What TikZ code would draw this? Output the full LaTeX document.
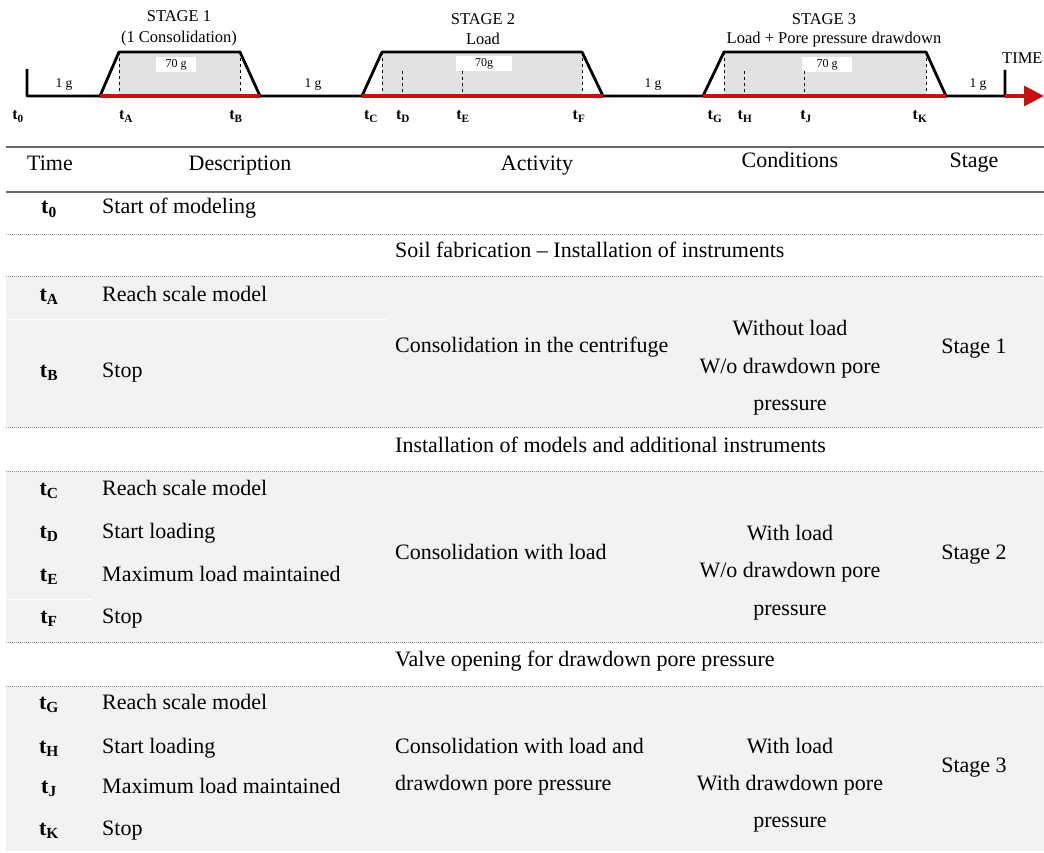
\documentclass[tikz,border=0pt]{standalone}
\usepackage{fontspec}
\setmainfont{Liberation Serif}
\usetikzlibrary{arrows.meta}
\definecolor{figR}{RGB}{200,16,16}
\definecolor{figG}{RGB}{226,226,226}
\definecolor{figS}{RGB}{242,242,242}
\definecolor{figL}{RGB}{105,105,105}
\newcommand{\tsub}[1]{\textbf{t}\textsubscript{\textbf{#1}}}

\begin{document}
\begin{tikzpicture}[x=1pt,y=-1pt,
  blk/.style={line width=2.8pt,black,line join=round},
  redl/.style={line width=3.2pt,figR},
  dsh/.style={dashed,black,line width=0.8pt},
  gbox/.style={fill=white,inner sep=0pt,minimum height=15pt,font=\fontsize{12}{14}\selectfont},
  stg/.style={inner sep=0pt,anchor=base,font=\fontsize{16.5}{18}\selectfont},
  oneg/.style={inner sep=0pt,anchor=base,font=\fontsize{13.5}{15}\selectfont},
  tmark/.style={inner sep=0pt,anchor=base,font=\fontsize{16}{18}\selectfont},
  cell/.style={inner sep=0pt,anchor=base west,font=\fontsize{22}{26}\selectfont},
  ccell/.style={inner sep=0pt,anchor=base,font=\fontsize{22}{26}\selectfont},
  rule/.style={figL,line width=1.5pt},
  dots/.style={gray!85,line width=0.8pt,dash pattern=on 1pt off 1pt}]
\useasboundingbox (0,0) rectangle (1044,853);
% plateaus at 70 g
\fill[figG] (119,52) rectangle (240,96);
\fill[figG] (382,52) rectangle (582,96);
\fill[figG] (724,52) rectangle (926,96);
\node[gbox,minimum width=40pt] (g1) at (176,64.5) {70 g};
\node[gbox,minimum width=56pt] (g2) at (484,64) {70g};
\node[gbox,minimum width=50pt] (g3) at (827,64.5) {70 g};
% time marks
\draw[dsh] (119,52) -- (119,96);
\draw[dsh] (240,52) -- (240,96);
\draw[dsh] (382,52) -- (382,96);
\draw[dsh] (402,71) -- (402,96);
\draw[dsh] (462,71) -- (462,96);
\draw[dsh] (582,52) -- (582,96);
\draw[dsh] (724,52) -- (724,96);
\draw[dsh] (744,71) -- (744,96);
\draw[dsh] (804,71) -- (804,96);
\draw[dsh] (926,52) -- (926,96);
% acceleration profile
\draw[blk] (27,69) -- (27,96) -- (100,96) -- (119,52) -- (240,52) -- (260,96) -- (362,96)
  -- (382,52) -- (582,52) -- (603,96) -- (703,96) -- (724,52) -- (926,52) -- (946,96)
  -- (1005,96) -- (1005,70);
\draw[redl] (100,96) -- (260,96);
\draw[redl] (362,96) -- (603,96);
\draw[redl] (703,96) -- (946,96);
\draw[redl,-{Triangle[length=20pt,width=20pt]}] (1005,96) -- (1044,96);
\node[inner sep=0pt,anchor=base west,font=\fontsize{16.5}{18}\selectfont] (time) at (1002,64) {TIME};
% stage titles
\node[stg] (s1) at (179,22) {STAGE 1};
\node[stg] (s1b) at (179,43) {(1 Consolidation)};
\node[stg] (s2) at (483,25) {STAGE 2};
\node[stg] (s2b) at (483,45) {Load};
\node[stg] (s3) at (824,25) {STAGE 3};
\node[stg] (s3b) at (834,44) {Load + Pore pressure drawdown};
\node[oneg] (o1) at (64,88) {1 g};
\node[oneg] (o2) at (313,88) {1 g};
\node[oneg] (o3) at (653,88) {1 g};
\node[oneg] (o4) at (978,88) {1 g};
% labels under the axis
\node[tmark] (m0) at (18,120) {\tsub{0}};
\node[tmark] (mA) at (126,120) {\tsub{A}};
\node[tmark] (mB) at (236,120) {\tsub{B}};
\node[tmark] (mC) at (371,120) {\tsub{C}};
\node[tmark] (mD) at (403,120) {\tsub{D}};
\node[tmark] (mE) at (463,120) {\tsub{E}};
\node[tmark] (mF) at (579,120) {\tsub{F}};
\node[tmark] (mG) at (715,120) {\tsub{G}};
\node[tmark] (mH) at (745,120) {\tsub{H}};
\node[tmark] (mJ) at (806,120) {\tsub{J}};
\node[tmark] (mK) at (920,120) {\tsub{K}};
% table: shaded stage rows and rules
\fill[figS] (6,277) rectangle (1044,427);
\fill[figS] (6,471) rectangle (1044,642);
\fill[figS] (6,686) rectangle (1044,851);
\draw[white,line width=1pt] (6,319) -- (387,319);
\draw[white,line width=1pt] (6,599) -- (93,599);
\draw[rule] (6,147) -- (1044,147);
\draw[rule] (6,192) -- (1044,192);
\draw[dots] (6,234) -- (1044,234);
\draw[dots] (6,276.5) -- (1044,276.5);
\draw[dots] (6,427.5) -- (1044,427.5);
\draw[dots] (6,471) -- (1044,471);
\draw[dots] (6,642.5) -- (1044,642.5);
\draw[dots] (6,686) -- (1044,686);
% header
\node[ccell] (hTime) at (50,171) {Time};
\node[ccell] (hDesc) at (240,171) {Description};
\node[ccell] (hAct) at (537,171) {Activity};
\node[ccell] (hCond) at (790,168) {Conditions};
\node[ccell] (hStage) at (974,168) {Stage};
% before stage 1
\node[ccell] (r0) at (49,214) {\tsub{0}};
\node[cell] (d0) at (102,214) {Start of modeling};
\node[cell] (a0) at (395,257) {Soil fabrication -- Installation of instruments};
% stage 1
\node[ccell] (rA) at (49,301) {\tsub{A}};
\node[cell] (dA) at (102,301) {Reach scale model};
\node[ccell] (rB) at (49,377) {\tsub{B}};
\node[cell] (dB) at (102,377) {Stop};
\node[cell] (a1) at (395,352) {Consolidation in the centrifuge};
\node[ccell] (c1a) at (790,335) {Without load};
\node[ccell] (c1b) at (790,373) {W/o drawdown pore};
\node[ccell] (c1c) at (790,410) {pressure};
\node[ccell] (st1) at (974,353) {Stage 1};
\node[cell] (a12) at (395,452) {Installation of models and additional instruments};
% stage 2
\node[ccell] (rC) at (49,495) {\tsub{C}};
\node[cell] (dC) at (102,495) {Reach scale model};
\node[ccell] (rD) at (49,538) {\tsub{D}};
\node[cell] (dD) at (102,538) {Start loading};
\node[ccell] (rE) at (49,581) {\tsub{E}};
\node[cell] (dE) at (102,581) {Maximum load maintained};
\node[ccell] (rF) at (49,623) {\tsub{F}};
\node[cell] (dF) at (102,623) {Stop};
\node[cell] (a2) at (395,559) {Consolidation with load};
\node[ccell] (c2a) at (790,540) {With load};
\node[ccell] (c2b) at (790,577) {W/o drawdown pore};
\node[ccell] (c2c) at (790,615) {pressure};
\node[ccell] (st2) at (974,559) {Stage 2};
\node[cell] (a23) at (395,666) {Valve opening for drawdown pore pressure};
% stage 3
\node[ccell] (rG) at (49,709) {\tsub{G}};
\node[cell] (dG) at (102,709) {Reach scale model};
\node[ccell] (rH) at (49,753) {\tsub{H}};
\node[cell] (dH) at (102,753) {Start loading};
\node[ccell] (rJ) at (49,793) {\tsub{J}};
\node[cell] (dJ) at (102,793) {Maximum load maintained};
\node[ccell] (rK) at (49,835) {\tsub{K}};
\node[cell] (dK) at (102,835) {Stop};
\node[cell] (a3a) at (395,753) {Consolidation with load and};
\node[cell] (a3b) at (395,790) {drawdown pore pressure};
\node[ccell] (c3a) at (790,753) {With load};
\node[ccell] (c3b) at (790,790) {With drawdown pore};
\node[ccell] (c3c) at (790,827) {pressure};
\node[ccell] (st3) at (974,772) {Stage 3};
\end{tikzpicture}
\end{document}
